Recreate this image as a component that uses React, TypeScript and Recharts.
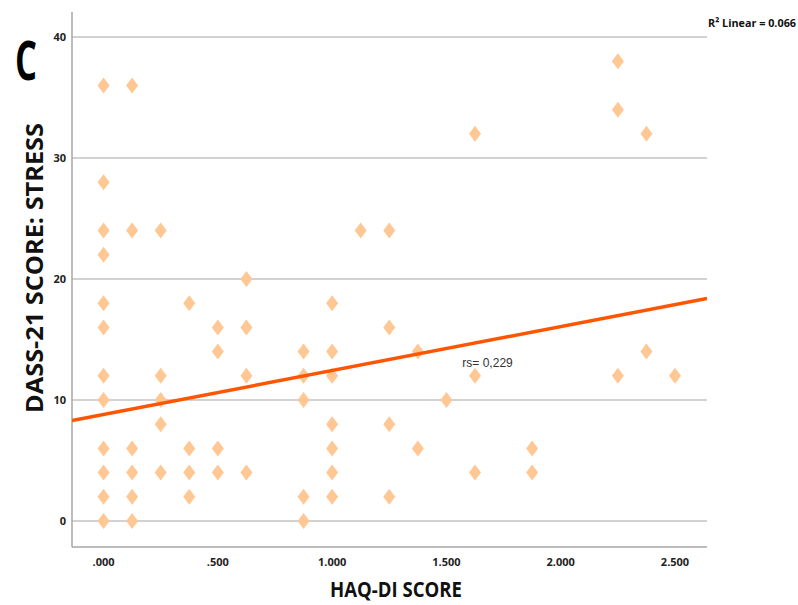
import React from "react";
import {
  ScatterChart, Scatter, XAxis, YAxis, ReferenceLine, ReferenceDot, Customized,
} from "recharts";

// HAQ-DI score (x) vs DASS-21 stress score (y)
const haqScores = [
  0, 0, 0, 0, 0, 0, 0, 0, 0, 0, 0, 0,
  0.125, 0.125, 0.125, 0.125, 0.125, 0.125,
  0.25, 0.25, 0.25, 0.25, 0.25,
  0.375, 0.375, 0.375, 0.375,
  0.5, 0.5, 0.5, 0.5,
  0.625, 0.625, 0.625, 0.625,
  0.875, 0.875, 0.875, 0.875, 0.875,
  1, 1, 1, 1, 1, 1, 1,
  1.125,
  1.25, 1.25, 1.25, 1.25,
  1.375, 1.375,
  1.5,
  1.625, 1.625, 1.625,
  1.875, 1.875,
  2.25, 2.25, 2.25,
  2.375, 2.375,
  2.5,
];
const stressScores = [
  36, 28, 24, 22, 18, 16, 12, 10, 6, 4, 2, 0,
  36, 24, 6, 4, 2, 0,
  24, 12, 10, 8, 4,
  18, 6, 4, 2,
  16, 14, 6, 4,
  20, 16, 12, 4,
  14, 12, 10, 2, 0,
  18, 14, 12, 8, 6, 4, 2,
  24,
  24, 16, 8, 2,
  14, 6,
  10,
  32, 12, 4,
  6, 4,
  38, 34, 12,
  32, 14,
  12,
];

// fitted line ends at the plot edges
const fitX = [-0.138, 2.64];
const fitY = [8.3, 18.4];

const xTicks = [0, 0.5, 1, 1.5, 2, 2.5];
const yTicks = [0, 10, 20, 30, 40];

const points = haqScores.map((x, i) => ({ x, y: stressScores[i] }));
const fitLine = fitX.map((x, i) => ({ x, y: fitY[i] }));

const fmtX = (v: number) => {
  const s = v.toFixed(3);
  return s.startsWith("0") ? s.slice(1) : s;
};

const Diamond = (props: any) => {
  const { cx, cy } = props;
  if (cx == null || cy == null) return <g />;
  return (
    <polygon
      points={`${cx},${cy - 8} ${cx + 6},${cy} ${cx},${cy + 8} ${cx - 6},${cy}`}
      fill="#FFC793"
    />
  );
};

const Annotations = () => (
  <g>
    <text x={15} y={80} fontFamily="Open Sans" fontWeight={700} fontSize={54}
      textLength={22} lengthAdjust="spacingAndGlyphs" fill="#000">C</text>
    <text x={708} y={27} fontFamily="Open Sans" fontWeight={700} fontSize={11}
      textLength={88} lengthAdjust="spacingAndGlyphs" fill="#111">R² Linear = 0.066</text>
    <text x={396} y={597} textAnchor="middle" fontFamily="Open Sans" fontWeight={700}
      fontSize={22} textLength={132} lengthAdjust="spacingAndGlyphs" fill="#111">HAQ-DI SCORE</text>
    <text transform="translate(43,268) rotate(-90)" textAnchor="middle" fontFamily="Open Sans"
      fontWeight={700} fontSize={23} textLength={290} lengthAdjust="spacingAndGlyphs"
      fill="#111">DASS-21 SCORE: STRESS</text>
  </g>
);

export default function App() {
  return (
    <div style={{ position: "absolute", left: 0, top: 0, background: "#fff" }}>
      <ScatterChart width={798} height={605} margin={{ top: 12, right: 91, bottom: 28, left: 42 }}>
        <XAxis
          type="number" dataKey="x" domain={[-0.138, 2.64]} ticks={xTicks} allowDataOverflow
          tickFormatter={fmtX} height={30} tickLine={false} tickSize={0} tickMargin={11}
          axisLine={{ stroke: "#a6a6a6", strokeWidth: 1.5 }}
          tick={{ fontSize: 11, fontWeight: 700, fill: "#222", fontFamily: "Open Sans" }}
        />
        <YAxis
          type="number" dataKey="y" domain={[-2.15, 42.07]} ticks={yTicks} allowDataOverflow
          width={30} tickLine={false} tickSize={0} tickMargin={6}
          axisLine={{ stroke: "#a6a6a6", strokeWidth: 1.5 }}
          tick={{ fontSize: 11, fontWeight: 700, fill: "#222", fontFamily: "Open Sans" }}
        />
        {yTicks.map((t) => (
          <ReferenceLine key={t} y={t} stroke="#d2d2d2" strokeWidth={2} />
        ))}
        <Scatter data={points} shape={<Diamond />} isAnimationActive={false} />
        <Scatter
          data={fitLine} line={{ stroke: "#FF5500", strokeWidth: 3.5 }}
          shape={() => <g />} isAnimationActive={false} legendType="none"
        />
        <ReferenceDot
          x={1.68} y={13.1} r={0} fill="none" stroke="none"
          label={{ value: "rs= 0,229", position: "center", fill: "#333", fontSize: 12, fontFamily: "Liberation Sans" }}
        />
        <Customized component={<Annotations />} />
      </ScatterChart>
    </div>
  );
}
